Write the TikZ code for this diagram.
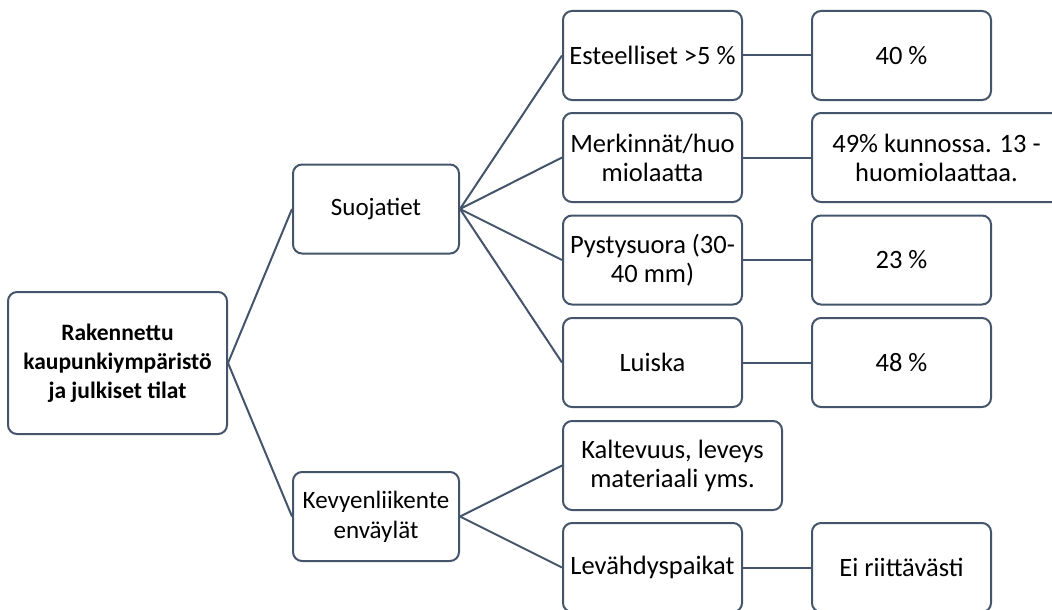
\documentclass[tikz,border=0pt]{standalone}
\usepackage{fontspec}
\setmainfont{Carlito}
\usepackage{tikz}
\usetikzlibrary{positioning,calc}
\definecolor{slate}{HTML}{44546A}
\tikzset{
  box/.style={draw=slate, line width=2pt, rounded corners=9pt, align=center,
    inner sep=2pt, minimum width=179pt, minimum height=89pt,
    font=\fontsize{26.5}{29}\selectfont},
  midbox/.style={box, minimum width=166pt, font=\fontsize{25}{30}\selectfont},
  link/.style={draw=slate, line width=2pt}
}
\begin{document}
\begin{tikzpicture}[x=1pt, y=-1pt]
    \useasboundingbox (0,0) rectangle (1052,610);

    % Root
    \node[box, minimum width=219pt, minimum height=142pt, font=\fontsize{23.5}{29}\selectfont\bfseries] (root) at (117.5,363) {Rakennettu\\kaupunkiympäristö\\ja julkiset tilat};

    % Branches
    \node[midbox] (suo) at (376,209) {Suojatiet};
    \node[midbox] (kev) at (376,516.5) {Kevyenliikente\\enväylät};

    % Suojatiet
    \node[box] (est) at (652.5,55.5) {Esteelliset >5 \%};
    \node[box] (mer) at (652.5,157.5) {Merkinnät/huo\\miolaatta};
    \node[box] (pys) at (652.5,260) {Pystysuora (30-\\40 mm)};
    \node[box] (lui) at (652.5,362.5) {Luiska};

    % Kevyenliikenteenväylät
    \node[box, minimum width=219pt] (kal) at (672.5,465.5) {Kaltevuus, leveys\\materiaali yms.};
    \node[box] (lev) at (652.5,567.5) {Levähdyspaikat};

    % Values
    \node[box] (v40) at (901.5,55.5) {40 \%};
    \node[box, minimum width=249pt] (v49) at (936.5,157.5) {49\% kunnossa. 13 -\\huomiolaattaa.};
    \node[box] (v23) at (901.5,260) {23 \%};
    \node[box] (v48) at (901.5,362.5) {48 \%};
    \node[box] (eir) at (901.5,567.5) {Ei riittävästi};

    % Connectors
    \foreach \a/\b in {root/suo, root/kev, suo/est, suo/mer, suo/pys, suo/lui,
                       kev/kal, kev/lev, est/v40, mer/v49, pys/v23, lui/v48, lev/eir}
        \draw[link] (\a.east) -- (\b.west);
\end{tikzpicture}
\end{document}
